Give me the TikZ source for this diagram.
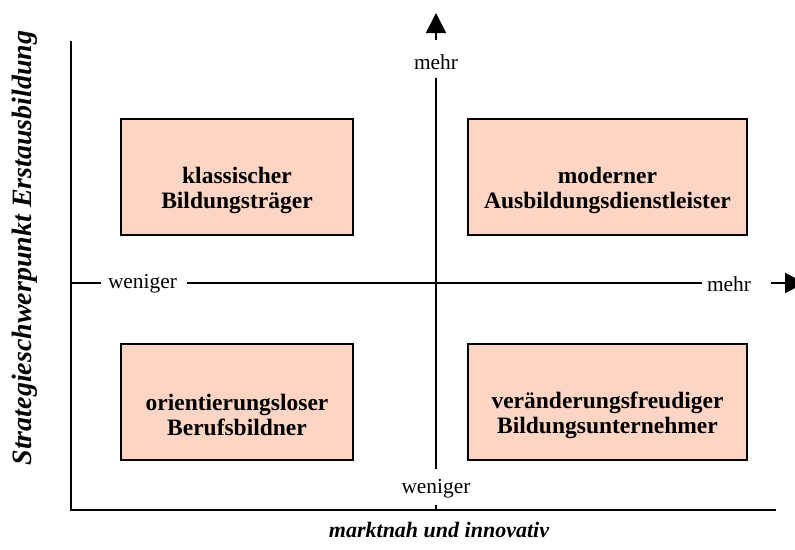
\documentclass[tikz,border=0pt]{standalone}
\usepackage{fontspec}
\setmainfont{Liberation Serif}
\usetikzlibrary{arrows.meta}
\definecolor{boxfill}{RGB}{252,213,196}
\begin{document}
\begin{tikzpicture}[x=1pt,y=-1pt,
  axis/.style={line width=1.6pt, draw=black},
  quad/.style={draw=black, line width=1.6pt, fill=boxfill, minimum height=116pt, inner sep=0pt},
  qtext/.style={font=\fontsize{23.5}{25}\selectfont\bfseries, align=center, inner sep=0pt},
  axlabel/.style={font=\fontsize{21.4}{24}\selectfont, inner sep=0pt},
  title/.style={font=\fontsize{22}{24}\selectfont\bfseries\itshape, inner sep=0pt},
  tipped/.style={line width=1.6pt, -{Triangle[width=20pt,length=20pt]}}]
\useasboundingbox (0,0) rectangle (795,549);
% frame axes
\coordinate (ytop) at (71,41);
\coordinate (orig) at (71,510);
\coordinate (xend) at (776,510);
\coordinate (ymid) at (71,283);
\draw[axis] (ytop) -- (orig) -- (xend);
% quadrant boxes
\node[quad, minimum width=232pt] (tl) at (237,177) {};
\node[quad, minimum width=279pt] (tr) at (607.5,177) {};
\node[quad, minimum width=232pt] (bl) at (237,402) {};
\node[quad, minimum width=279pt] (br) at (607.5,402) {};
\node[qtext] (tlt) at (237,190) {klassischer\\Bildungsträger};
\node[qtext] (trt) at (607.5,190) {moderner\\Ausbildungsdienstleister};
\node[qtext] (blt) at (237,415) {orientierungsloser\\Berufsbildner};
\node[qtext] (brt) at (607.5,415) {veränderungsfreudiger\\Bildungsunternehmer};
% vertical middle axis
\node[axlabel] (vmehr) at (436,62) {mehr};
\node[axlabel] (vwen) at (436,489) {weniger};
\coordinate (vbot) at (436,510);
\coordinate (varr) at (436,40);
\coordinate (vtip) at (436,13);
\draw[axis] ([yshift=-8pt]vmehr.south) -- ([yshift=10pt]vwen.north);
\draw[axis] ([yshift=-6pt]vwen.south) -- (vbot);
\draw[tipped] (varr) -- (vtip);
% horizontal middle axis
\node[axlabel] (hwen) at (142.5,284) {weniger};
\node[axlabel] (hmehr) at (729,284) {mehr};
\coordinate (harr) at (771,283);
\coordinate (htip) at (805,283);
\draw[axis] (ymid) -- ([xshift=-7pt]hwen.west |- ymid);
\draw[axis] ([xshift=10pt]hwen.east |- ymid) -- ([xshift=-5pt]hmehr.west |- ymid);
\draw[tipped] (harr) -- (htip);
% titles
\node[title, font=\fontsize{28}{30}\selectfont\bfseries\itshape, rotate=90] (ylab) at (25,248) {Strategieschwerpunkt Erstausbildung};
\node[title] (xlab) at (439,530) {marktnah und innovativ};
\end{tikzpicture}
\end{document}
